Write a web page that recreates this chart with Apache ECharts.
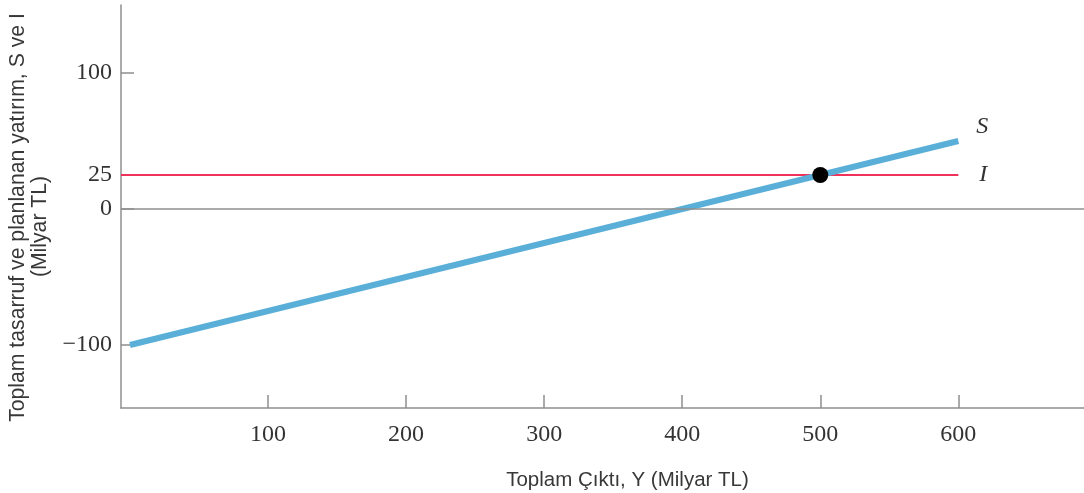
<!DOCTYPE html>
<html>
<head>
<meta charset="utf-8">
<script src="https://cdn.jsdelivr.net/npm/echarts@6/dist/echarts.min.js"></script>
<style>html,body{margin:0;padding:0;background:#fff}#c{width:1084px;height:493px}</style>
</head>
<body>
<div id="c"></div>
<script>
const outputY = [0, 100, 200, 300, 400, 500, 600];
const savingS = [-100, -75, -50, -25, 0, 25, 50];
const investIStart = -6.5;
const investIEnd = 600;
const investI = 25;
const equilibrium = [500, 25];
const xTicks = [100, 200, 300, 400, 500, 600];
const yTicks = [-100, 0, 25, 100];
const xTitle = 'Toplam Çıktı, Y (Milyar TL)';
const yTitleLine1 = 'Toplam tasarruf ve planlanan yatırım, S ve I';
const yTitleLine2 = '(Milyar TL)';

const chart = echarts.init(document.getElementById('c'));
const axisGray = '#8f8f8f';
const serif = 'Liberation Serif';
const titleColor = '#383838';
chart.setOption({
  animation: false,
  grid: {left: 121, right: 0, top: 5, bottom: 85, outerBoundsMode: 'none', containLabel: false},
  xAxis: {
    type: 'value', min: investIStart, max: 691,
    axisLine: {onZero: false, lineStyle: {color: axisGray, width: 1.5}},
    axisTick: {inside: true, length: 13, customValues: xTicks, lineStyle: {color: axisGray, width: 1.5}},
    axisLabel: {customValues: xTicks, margin: 15, fontFamily: serif, fontSize: 24, color: '#333'},
    splitLine: {show: false},
    name: xTitle, nameLocation: 'middle', nameGap: 62,
    nameTextStyle: {fontFamily: 'Liberation Sans', fontSize: 20.5, color: titleColor, padding: [0, 0, 0, 50]}
  },
  yAxis: {
    type: 'value', min: -146.3, max: 150,
    axisLine: {onZero: false, lineStyle: {color: axisGray, width: 1.5}},
    axisTick: {inside: true, length: 13, customValues: yTicks, lineStyle: {color: axisGray, width: 1.5}},
    axisLabel: {customValues: yTicks, margin: 9, fontFamily: serif, fontSize: 24, color: '#333',
      formatter: v => String(v).replace('-', '\u2212')},
    splitLine: {show: false},
    name: '{a|' + yTitleLine1 + '}\n{b|' + yTitleLine2 + '}', nameLocation: 'middle', nameRotate: 90, nameGap: 66,
    nameTextStyle: {
      fontFamily: 'Liberation Sans', fontSize: 21.2, color: titleColor, lineHeight: 22, padding: [0, 22, 0, 0],
      rich: {
        a: {fontFamily: 'Liberation Sans', fontSize: 21.2, color: titleColor, lineHeight: 22},
        b: {fontFamily: 'Liberation Sans', fontSize: 21.2, color: titleColor, lineHeight: 22, padding: [0, 18, 0, 0]}
      }
    }
  },
  series: [
    {
      type: 'line', data: [[investIStart, investI], [investIEnd, investI]],
      symbol: 'none', lineStyle: {color: '#f0325a', width: 2},
      endLabel: {show: true, formatter: 'I', fontFamily: serif, fontStyle: 'italic', fontSize: 24, color: '#333', offset: [13, 0]},
      markLine: {silent: true, symbol: 'none', label: {show: false},
        lineStyle: {color: axisGray, width: 1.5, type: 'solid'}, data: [{yAxis: 0}]}
    },
    {
      type: 'line', data: outputY.map((x, i) => [x, savingS[i]]),
      symbol: 'none', lineStyle: {color: '#5aafd8', width: 6},
      endLabel: {show: true, formatter: 'S', fontFamily: serif, fontStyle: 'italic', fontSize: 24, color: '#333', offset: [10, -14]}
    },
    {
      type: 'scatter', data: [equilibrium], symbolSize: 16,
      itemStyle: {color: '#000', opacity: 1}, z: 5
    }
  ]
});
</script>
</body>
</html>
